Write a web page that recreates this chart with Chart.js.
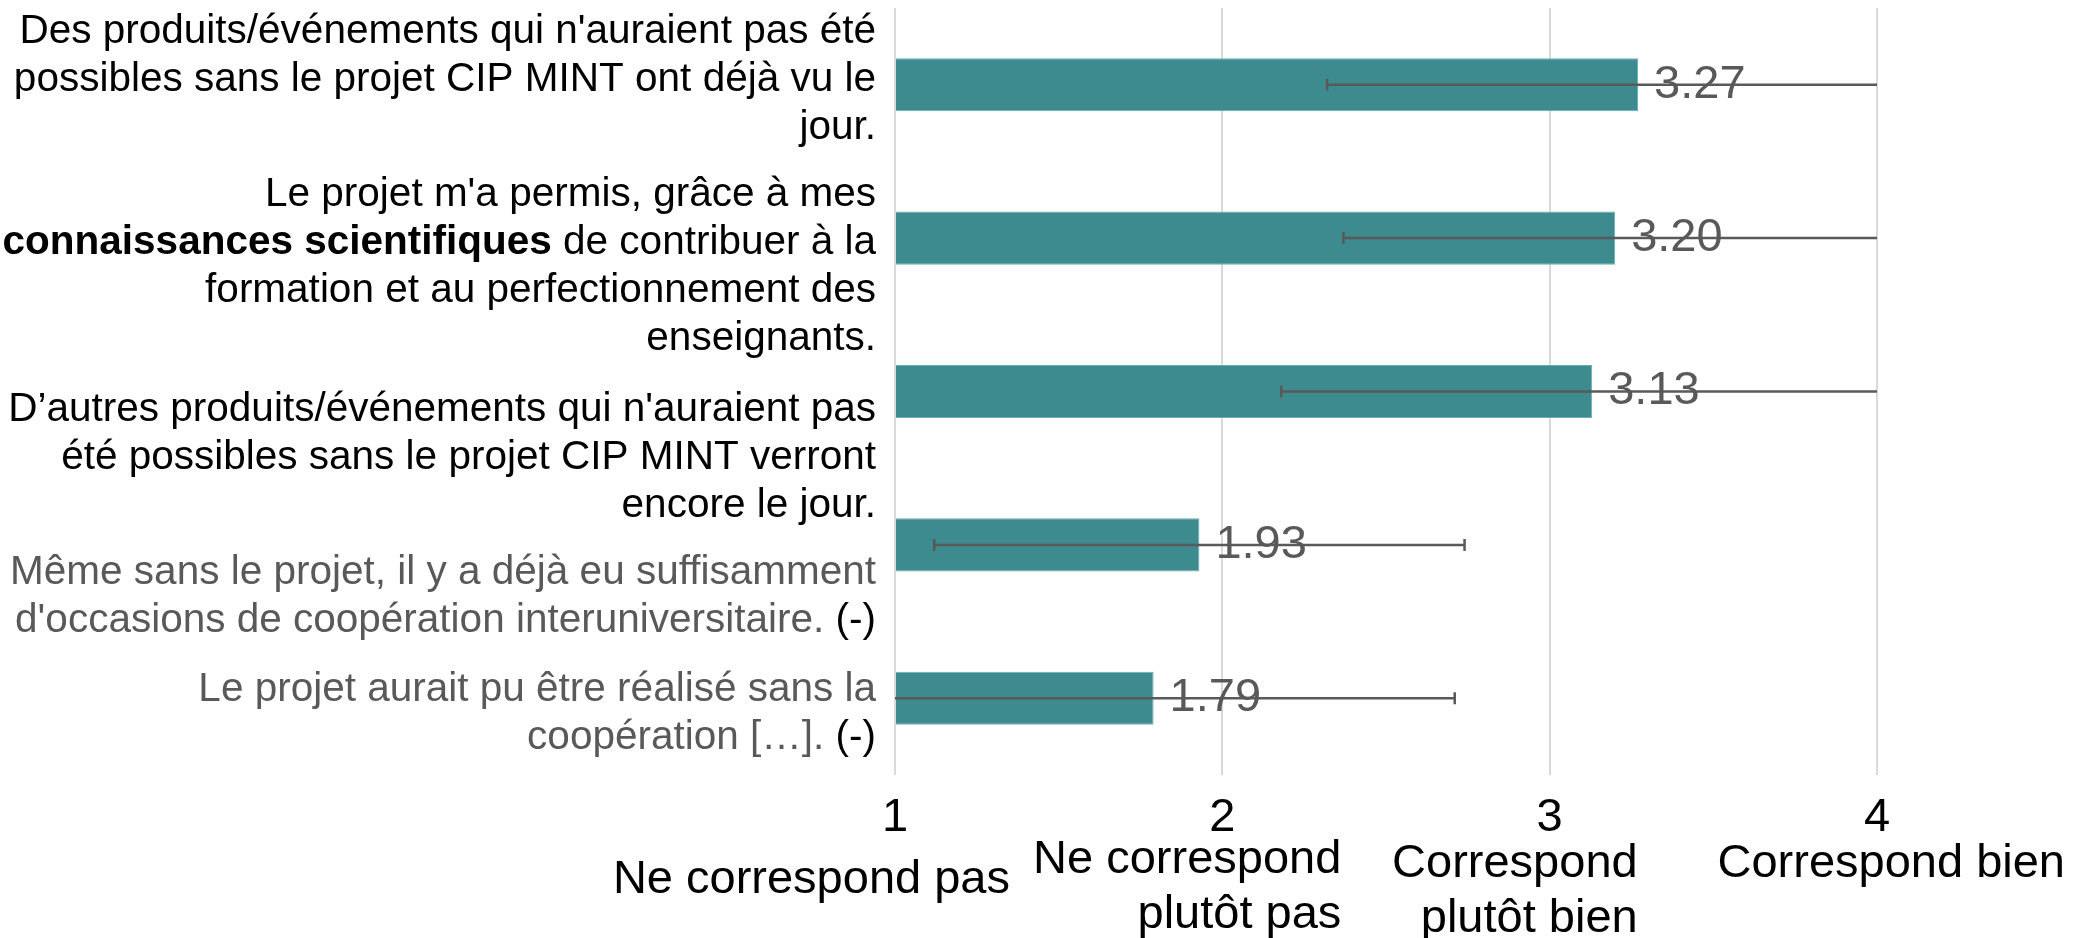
<!DOCTYPE html>
<html>
<head>
<meta charset="utf-8">
<script src="https://cdn.jsdelivr.net/npm/chart.js@4.4.1/dist/chart.umd.min.js"></script>
<style>
  html, body { margin: 0; padding: 0; background: #ffffff; overflow: hidden; }
  #wrap { width: 2073px; height: 938px; position: relative; }
</style>
</head>
<body>
<div id="wrap"><canvas id="c" width="2073" height="938"></canvas></div>
<script>
// ---------- DATA ----------
const categories = [
  ["Des produits/événements qui n'auraient pas été",
   "possibles sans le projet CIP MINT ont déjà vu le",
   "jour."],
  ["Le projet m'a permis, grâce à mes",
   "**connaissances scientifiques** de contribuer à la",
   "formation et au perfectionnement des",
   "enseignants."],
  ["D’autres produits/événements qui n'auraient pas",
   "été possibles sans le projet CIP MINT verront",
   "encore le jour."],
  ["Même sans le projet, il y a déjà eu suffisamment",
   "d'occasions de coopération interuniversitaire. (-)"],
  ["Le projet aurait pu être réalisé sans la",
   "coopération […]. (-)"]
];
const negativeItem = [false, false, false, true, true];
const means = [3.27, 3.20, 3.13, 1.93, 1.79];
const stdDevs = [0.95, 0.83, 0.95, 0.81, 0.92];
const tickValues = [1, 2, 3, 4];
const tickDescriptions = [
  ["Ne correspond pas"],
  ["Ne correspond", "plutôt pas"],
  ["Correspond", "plutôt bien"],
  ["Correspond bien"]
];

// ---------- STYLE ----------
const FONT = "'Liberation Sans', Arial, Helvetica, sans-serif";
const BAR_COLOR = '#3e8b8f';
const GRAY = '#595959';

// layout tweaks for the free-standing text blocks (offsets from scale pixels)
const yLabelLayout = { gap: 19, lineHeight: 48, fontSize: 40.5, midBaselineShift: [6, 40, 77, 63, 26.5] };
const xDescLayout = { fontSize: 47, lineHeight: 55, rightShift: [115, 119, 88, 188], firstBaseline: [118, 98, 102, 102] };

function parseSegments(line, negative) {
  const segs = [];
  line.split('**').forEach((part, i) => {
    if (!part) return;
    const bold = i % 2 === 1;
    if (negative && part.endsWith('(-)')) {
      const head = part.slice(0, -3);
      if (head) segs.push({ text: head, bold, color: GRAY });
      segs.push({ text: '(-)', bold, color: '#000000' });
    } else {
      segs.push({ text: part, bold, color: negative ? GRAY : '#000000' });
    }
  });
  return segs;
}

const textPlugin = {
  id: 'customText',
  afterDatasetsDraw(chart) {
    const ctx = chart.ctx;
    const ca = chart.chartArea;
    const xs = chart.scales.x;
    const ys = chart.scales.y;
    const meta = chart.getDatasetMeta(0);

    // error bars (clipped to plot area)
    ctx.save();
    ctx.beginPath();
    ctx.rect(ca.left, ca.top, ca.right - ca.left, ca.bottom - ca.top);
    ctx.clip();
    ctx.strokeStyle = GRAY;
    ctx.lineWidth = 2.5;
    meta.data.forEach((bar, i) => {
      const y = bar.y;
      const x1 = xs.getPixelForValue(means[i] - stdDevs[i]);
      const x2 = xs.getPixelForValue(means[i] + stdDevs[i]);
      ctx.beginPath();
      ctx.moveTo(x1, y); ctx.lineTo(x2, y);
      ctx.moveTo(x1, y - 6); ctx.lineTo(x1, y + 6);
      ctx.moveTo(x2, y - 6); ctx.lineTo(x2, y + 6);
      ctx.stroke();
    });
    ctx.restore();

    // value labels
    ctx.save();
    ctx.font = `47px ${FONT}`;
    ctx.fillStyle = GRAY;
    ctx.textAlign = 'left';
    ctx.textBaseline = 'middle';
    meta.data.forEach((bar, i) => {
      ctx.fillText(means[i].toFixed(2), bar.x + 16, bar.y);
    });
    ctx.restore();

    // category labels (right aligned, rich text)
    ctx.save();
    ctx.textBaseline = 'alphabetic';
    ctx.textAlign = 'left';
    const right = ca.left - yLabelLayout.gap;
    categories.forEach((lines, i) => {
      const cy = ys.getPixelForValue(i) + yLabelLayout.midBaselineShift[i];
      const n = lines.length;
      lines.forEach((line, j) => {
        const y = cy + (j - (n - 1) / 2) * yLabelLayout.lineHeight;
        const segs = parseSegments(line, negativeItem[i]);
        let total = 0;
        segs.forEach(s => {
          ctx.font = `${s.bold ? 'bold ' : ''}${yLabelLayout.fontSize}px ${FONT}`;
          s.w = ctx.measureText(s.text).width;
          total += s.w;
        });
        let x = right - total;
        segs.forEach(s => {
          ctx.font = `${s.bold ? 'bold ' : ''}${yLabelLayout.fontSize}px ${FONT}`;
          ctx.fillStyle = s.color;
          ctx.fillText(s.text, x, y);
          x += s.w;
        });
      });
    });
    ctx.restore();

    // x-axis descriptions
    ctx.save();
    ctx.font = `${xDescLayout.fontSize}px ${FONT}`;
    ctx.fillStyle = '#000000';
    ctx.textAlign = 'right';
    ctx.textBaseline = 'alphabetic';
    tickValues.forEach((v, i) => {
      const rx = xs.getPixelForValue(v) + xDescLayout.rightShift[i];
      tickDescriptions[i].forEach((line, j) => {
        ctx.fillText(line, rx, ca.bottom + xDescLayout.firstBaseline[i] + j * xDescLayout.lineHeight);
      });
    });
    ctx.restore();
  }
};

new Chart(document.getElementById('c'), {
  type: 'bar',
  data: {
    labels: categories.map(l => l.join(' ').replace(/\*\*/g, '')),
    datasets: [{
      data: means,
      base: 1,
      backgroundColor: BAR_COLOR,
      borderColor: '#6aaeb1',
      borderWidth: 1,
      barPercentage: 0.346,
      categoryPercentage: 1
    }]
  },
  options: {
    indexAxis: 'y',
    responsive: false,
    animation: false,
    layout: { padding: { left: 895, right: 196, top: 8, bottom: 95 } },
    plugins: { legend: { display: false }, tooltip: { enabled: false } },
    scales: {
      x: {
        type: 'linear',
        min: 1,
        max: 4,
        afterBuildTicks: s => { s.ticks = tickValues.map(v => ({ value: v })); },
        afterFit: s => { s.paddingLeft = 0; s.paddingRight = 0; },
        ticks: {
          callback: v => String(v),
          font: { size: 47, family: FONT, lineHeight: '50px' },
          color: '#000000',
          padding: 0,
          maxRotation: 0,
          minRotation: 0,
          autoSkip: false
        },
        grid: { color: '#d9d9d9', lineWidth: 2, drawTicks: true, tickLength: 18, tickColor: 'rgba(0,0,0,0)' },
        border: { display: false }
      },
      y: { display: false }
    }
  },
  plugins: [textPlugin]
});
</script>
</body>
</html>
